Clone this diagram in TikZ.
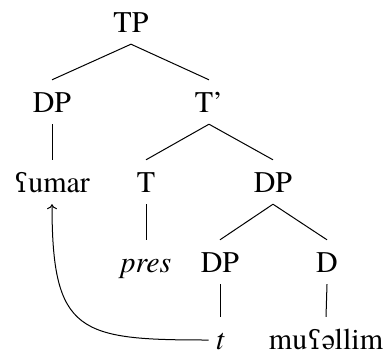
\documentclass[tikz,border=0pt]{standalone}
\usepackage{fontspec}
\setmainfont{texgyretermes}[Extension=.otf,UprightFont=*-regular,ItalicFont=*-italic,BoldFont=*-bold,BoldItalicFont=*-bolditalic]
\newfontfamily\ipa{DejaVu Serif}[Scale=0.88]
\newcommand{\ain}{{\ipa ʕ}}
\usetikzlibrary{arrows.meta}
\begin{document}
\begin{tikzpicture}[x=1pt,y=-1pt,
  lab/.style={inner xsep=7pt,inner ysep=12pt,text height=20pt,text depth=0pt,anchor=base,font=\fontsize{30}{35}\selectfont},
  leaf/.style={lab,inner ysep=0pt,text height=32pt},
  edge/.style={line width=1pt}]
\useasboundingbox (0,0) rectangle (388,354);
\node[lab] (tp) at (131,32) {TP};
\node[lab] (dp1) at (52,112) {DP};
\node[lab] (tbar) at (209,112) {T’};
\node[lab] (umar) at (52,192) {\ain umar};
\node[lab] (t) at (146,192) {T};
\node[lab] (dp2) at (273,192) {DP};
\node[lab] (pres) at (146,272) {\itshape pres};
\node[lab] (dp3) at (220,272) {DP};
\node[lab] (d) at (327,272) {D};
\node[leaf] (trace) at (220,349) {\itshape t};
\node[leaf] (mu) at (326,349) {mu\ain əllim};
\draw[edge] (tp.south) -- (dp1.north);
\draw[edge] (tp.south) -- (tbar.north);
\draw[edge] (dp1.south) -- (umar.north);
\draw[edge] (tbar.south) -- (t.north);
\draw[edge] (tbar.south) -- (dp2.north);
\draw[edge] (t.south) -- (pres.north);
\draw[edge] (dp2.south) -- (dp3.north);
\draw[edge] (dp2.south) -- (d.north);
\draw[edge] (dp3.south) -- (trace.north);
\draw[edge] (d.south) -- (mu.north);
\draw[edge,-{To[length=5pt,width=10pt]}] ([yshift=-7pt]trace.west) to[out=180,in=-90,looseness=1.6] (umar.south);
\end{tikzpicture}
\end{document}
